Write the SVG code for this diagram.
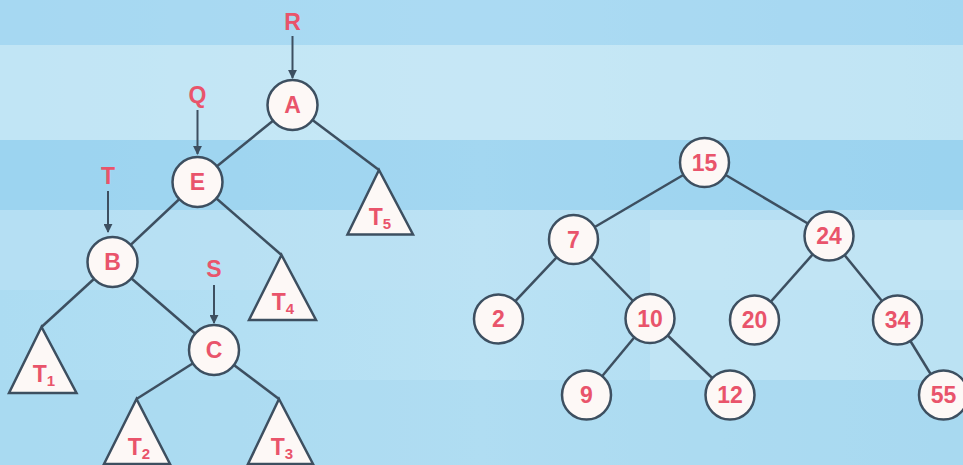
<svg xmlns="http://www.w3.org/2000/svg" width="963" height="465" viewBox="0 0 963 465">
<defs>
<marker id="ah" viewBox="0 0 10 10" refX="9" refY="5" markerWidth="9" markerHeight="9" orient="auto" markerUnits="userSpaceOnUse">
<path d="M0,0 L10,5 L0,10 z" fill="#3d4f60"/>
</marker>
<linearGradient id="bg" x1="0" y1="0" x2="1" y2="0">
<stop offset="0" stop-color="#acdcf2"/>
<stop offset="0.5" stop-color="#bae2f4"/>
<stop offset="1" stop-color="#aadaf1"/>
</linearGradient>
<style>
.edge{stroke:#3d4f60;stroke-width:2.5;fill:none}
.ptr{stroke:#3d4f60;stroke-width:2;fill:none;marker-end:url(#ah)}
.node circle{fill:#fdf8f6;stroke:#3d4f60;stroke-width:2.5}
.node polygon{fill:#fdf8f6;stroke:#3d4f60;stroke-width:2.5;stroke-linejoin:miter}
.lbl{font-family:"Liberation Sans",Arial,sans-serif;font-weight:bold;font-size:23px;fill:#e9546b;text-anchor:middle}
.sub{font-size:15px}
</style>
</defs>
<g id="background">
<rect width="963" height="465" fill="url(#bg)"/>
<rect x="0" y="0" width="963" height="45" fill="#a2d6f1" opacity="0.6"/>
<rect x="0" y="45" width="963" height="95" fill="#cfebf6" opacity="0.6"/>
<rect x="0" y="140" width="963" height="70" fill="#8ccbed" opacity="0.5"/>
<rect x="0" y="210" width="963" height="80" fill="#bde2f4" opacity="0.5"/>
<rect x="650" y="220" width="313" height="160" fill="#cbe9f6" opacity="0.5"/>
<rect x="0" y="380" width="963" height="85" fill="#a6d7f0" opacity="0.5"/>
</g>
<g id="connectors">
<line class="edge" x1="292.5" y1="105" x2="197.5" y2="182"/>
<line class="edge" x1="292.5" y1="105" x2="379" y2="170"/>
<line class="edge" x1="197.5" y1="182" x2="112.5" y2="262"/>
<line class="edge" x1="197.5" y1="182" x2="281.5" y2="255"/>
<line class="edge" x1="112.5" y1="262" x2="41.5" y2="327"/>
<line class="edge" x1="112.5" y1="262" x2="214" y2="350"/>
<line class="edge" x1="214" y1="350" x2="136.5" y2="399"/>
<line class="edge" x1="214" y1="350" x2="279" y2="399"/>
<line class="ptr" x1="292.5" y1="36" x2="292.5" y2="78"/>
<line class="ptr" x1="197.5" y1="110" x2="197.5" y2="154"/>
<line class="ptr" x1="108" y1="191" x2="108" y2="232"/>
<line class="ptr" x1="214" y1="285" x2="214" y2="323"/>
<line class="edge" x1="704.5" y1="162.5" x2="573.5" y2="239.5"/>
<line class="edge" x1="704.5" y1="162.5" x2="829" y2="236"/>
<line class="edge" x1="573.5" y1="239.5" x2="498.5" y2="319"/>
<line class="edge" x1="573.5" y1="239.5" x2="650" y2="318.5"/>
<line class="edge" x1="650" y1="318.5" x2="586.5" y2="395"/>
<line class="edge" x1="650" y1="318.5" x2="730" y2="395"/>
<line class="edge" x1="829" y1="236" x2="754.5" y2="320"/>
<line class="edge" x1="829" y1="236" x2="897.5" y2="320"/>
<line class="edge" x1="897.5" y1="320" x2="943.5" y2="395"/>
</g>
<g id="ptrR"><text class="lbl" x="292.5" y="30">R</text></g>
<g id="ptrQ"><text class="lbl" x="197.5" y="103">Q</text></g>
<g id="ptrT"><text class="lbl" x="108" y="184">T</text></g>
<g id="ptrS"><text class="lbl" x="214" y="277">S</text></g>
<g id="nA" class="node"><circle cx="292.5" cy="105" r="25"/><text class="lbl" x="292.5" y="113">A</text></g>
<g id="nE" class="node"><circle cx="197.5" cy="182" r="25"/><text class="lbl" x="197.5" y="190">E</text></g>
<g id="nB" class="node"><circle cx="112.5" cy="262" r="25"/><text class="lbl" x="112.5" y="270">B</text></g>
<g id="nC" class="node"><circle cx="214" cy="350" r="25"/><text class="lbl" x="214" y="358">C</text></g>
<g id="T5" class="node"><polygon points="379,170 347.5,234.5 413,234.5"/><text class="lbl" x="380" y="225">T<tspan class="sub" dy="4">5</tspan></text></g>
<g id="T4" class="node"><polygon points="281.5,255 249,320 316,320"/><text class="lbl" x="283" y="310">T<tspan class="sub" dy="4">4</tspan></text></g>
<g id="T1" class="node"><polygon points="41.5,327 9,393 76.5,393"/><text class="lbl" x="44" y="382">T<tspan class="sub" dy="4">1</tspan></text></g>
<g id="T2" class="node"><polygon points="136.5,399 104,464 170,464"/><text class="lbl" x="139" y="455">T<tspan class="sub" dy="4">2</tspan></text></g>
<g id="T3" class="node"><polygon points="279,399 248,464 313,464"/><text class="lbl" x="282" y="455">T<tspan class="sub" dy="4">3</tspan></text></g>
<g id="n15" class="node"><circle cx="704.5" cy="162.5" r="24.5"/><text class="lbl" x="704.5" y="170.5">15</text></g>
<g id="n7" class="node"><circle cx="573.5" cy="239.5" r="24.5"/><text class="lbl" x="573.5" y="247.5">7</text></g>
<g id="n24" class="node"><circle cx="829" cy="236" r="24.5"/><text class="lbl" x="829" y="244">24</text></g>
<g id="n2" class="node"><circle cx="498.5" cy="319" r="24.5"/><text class="lbl" x="498.5" y="327">2</text></g>
<g id="n10" class="node"><circle cx="650" cy="318.5" r="24.5"/><text class="lbl" x="650" y="326.5">10</text></g>
<g id="n20" class="node"><circle cx="754.5" cy="320" r="24.5"/><text class="lbl" x="754.5" y="328">20</text></g>
<g id="n34" class="node"><circle cx="897.5" cy="320" r="24.5"/><text class="lbl" x="897.5" y="328">34</text></g>
<g id="n9" class="node"><circle cx="586.5" cy="395" r="24.5"/><text class="lbl" x="586.5" y="403">9</text></g>
<g id="n12" class="node"><circle cx="730" cy="395" r="24.5"/><text class="lbl" x="730" y="403">12</text></g>
<g id="n55" class="node"><circle cx="943.5" cy="395" r="24.5"/><text class="lbl" x="943.5" y="403">55</text></g>
</svg>
